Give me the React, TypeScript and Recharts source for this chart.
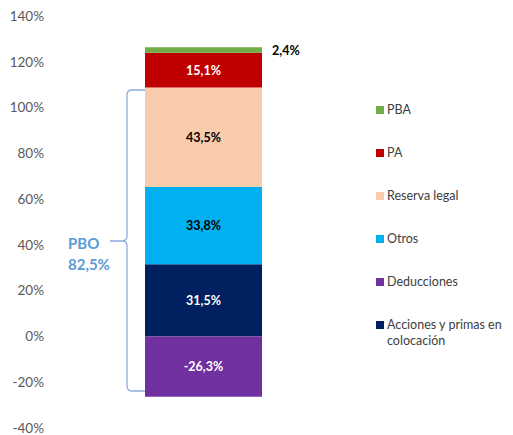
import { BarChart, Bar, XAxis, YAxis, LabelList } from "recharts";

// series, bottom-to-top stacking order (negative one goes below zero)
const seriesKeys = ["acciones", "otros", "reserva", "pa", "pba", "deducciones"];
const seriesValues = [31.5, 33.8, 43.5, 15.1, 2.4, -26.3];
const seriesColors = ["#002060", "#00B0F0", "#F8CBAD", "#C00000", "#70AD47", "#7030A0"];
const labelColors = ["#ffffff", "#000000", "#000000", "#ffffff", "#000000", "#ffffff"];

// legend, top-to-bottom as shown
const legendLabels = ["PBA", "PA", "Reserva legal", "Otros", "Deducciones", "Acciones y primas en\ncolocación"];
const legendColors = ["#70AD47", "#C00000", "#F8CBAD", "#00B0F0", "#7030A0", "#002060"];

const yTicks = [-40, -20, 0, 20, 40, 60, 80, 100, 120, 140];

const row: Record<string, any> = { name: "Total" };
seriesKeys.forEach((k, i) => (row[k] = seriesValues[i]));
const data = [row];

const FONT = "Lato, 'Open Sans', sans-serif";
const fmt = (v: any) => `${Number(v).toFixed(1).replace(".", ",")}%`;

export default function App() {
    return (
        <div style={{ position: "relative", width: 513, height: 435, margin: "-8px 0 0 -8px", fontFamily: FONT, overflow: "hidden" }}>
            <BarChart
                width={513}
                height={435}
                data={data}
                stackOffset="sign"
                margin={{ top: 16, right: 158, bottom: 7, left: 0 }}
            >
                <XAxis dataKey="name" hide />
                <YAxis
                    type="number"
                    domain={[-40, 140]}
                    ticks={yTicks}
                    interval={0}
                    width={52}
                    axisLine={false}
                    tickLine={false}
                    tickFormatter={(v) => `${v}%`}
                    tick={{ fontSize: 13.5, fill: "#595959", fontFamily: FONT }}
                />
                {seriesKeys.map((k, i) => (
                    <Bar key={k} dataKey={k} stackId="a" fill={seriesColors[i]} barSize={117} isAnimationActive={false}>
                        <LabelList
                            dataKey={k}
                            position={k === "pba" ? "right" : "center"}
                            offset={10}
                            formatter={fmt}
                            style={{ fontSize: 12.5, fontWeight: 700, fill: labelColors[i], fontFamily: FONT }}
                        />
                    </Bar>
                ))}
            </BarChart>

            {/* brace annotation */}
            <svg width={513} height={435} style={{ position: "absolute", left: 0, top: 0, pointerEvents: "none" }}>
                <path
                    d="M145,90 L132,90 Q127,90 127,95 L127,236 Q127,241 122,241 L110,241 M122,241 Q127,241 127,246 L127,386 Q127,391 132,391 L145,391"
                    fill="none"
                    stroke="#8FAADC"
                    strokeWidth={1.3}
                />
                <text x={68} y={249} fontSize={15} fontWeight={700} fill="#5B9BD5" fontFamily={FONT}>PBO</text>
                <text x={68} y={270} fontSize={15} fontWeight={700} fill="#5B9BD5" fontFamily={FONT}>82,5%</text>
            </svg>

            {/* legend */}
            <div style={{ position: "absolute", left: 376, top: 102, width: 137, fontSize: 12.5, color: "#404040", lineHeight: "16px" }}>
                {legendLabels.map((l, i) => (
                    <div key={l} style={{ display: "flex", alignItems: "flex-start", height: 43 }}>
                        <span style={{ width: 8, height: 8, background: legendColors[i], marginTop: 4, marginRight: 3, flexShrink: 0 }} />
                        <span style={{ whiteSpace: "pre" }}>{l}</span>
                    </div>
                ))}
            </div>
        </div>
    );
}
